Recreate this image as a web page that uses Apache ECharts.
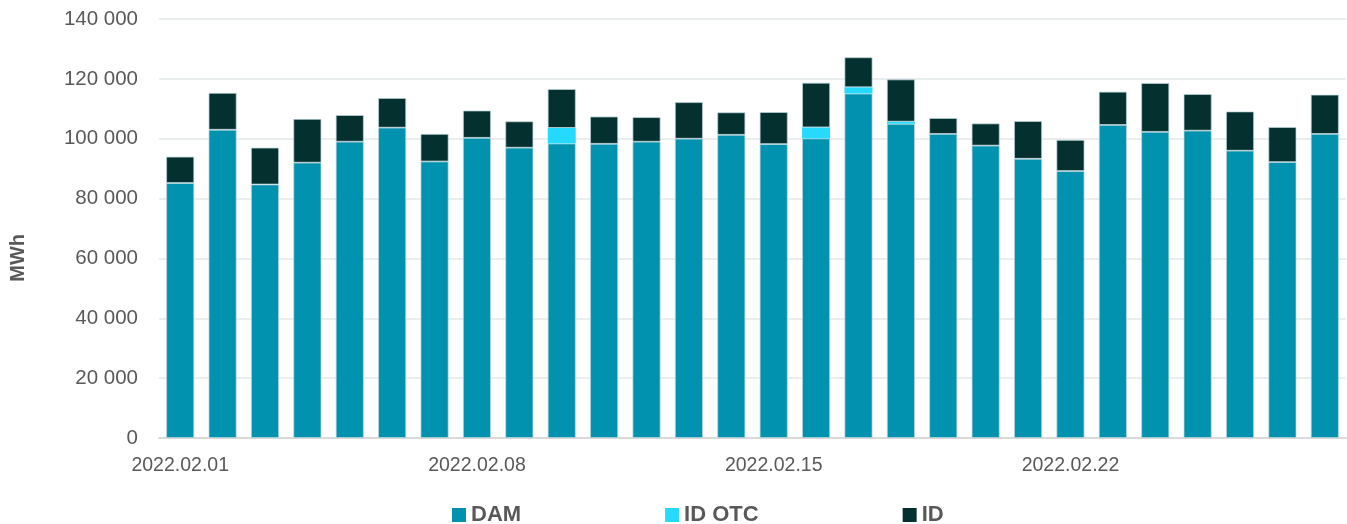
<!DOCTYPE html>
<html>
<head>
<meta charset="utf-8">
<script src="https://cdn.jsdelivr.net/npm/echarts@6/dist/echarts.min.js"></script>
<style>
html,body{margin:0;padding:0;background:#fff;}
#chart{width:1347px;height:524px;}
</style>
</head>
<body>
<div id="chart"></div>
<script>
const categories = [
  '2022.02.01','2022.02.02','2022.02.03','2022.02.04','2022.02.05','2022.02.06','2022.02.07',
  '2022.02.08','2022.02.09','2022.02.10','2022.02.11','2022.02.12','2022.02.13','2022.02.14',
  '2022.02.15','2022.02.16','2022.02.17','2022.02.18','2022.02.19','2022.02.20','2022.02.21',
  '2022.02.22','2022.02.23','2022.02.24','2022.02.25','2022.02.26','2022.02.27','2022.02.28'
];
const dam = [
  85200,103000,84700,92000,99000,103700,92400,
  100300,97000,98400,98300,99000,100000,101300,
  98200,100100,115100,105000,101600,97700,93300,
  89200,104600,102300,102700,96000,92200,101600
];
const idOtc = [
  0,0,0,0,0,0,0,
  0,0,5200,0,0,0,0,
  0,3700,2100,700,0,0,0,
  0,0,0,0,0,0,0
];
const idTotal = [
  94000,115300,97000,106600,107900,113600,101600,
  109400,105800,116600,107400,107200,112200,108800,
  108900,118700,127200,119800,106900,105100,105900,
  99600,115700,118600,114900,109100,103900,114700
];
const id = idTotal.map((t, i) => Math.round(t - dam[i] - idOtc[i]));
const yTicks = [0, 20000, 40000, 60000, 80000, 100000, 120000, 140000];

const fmt = v => String(v).replace(/\B(?=(\d{3})+(?!\d))/g, ' ');
const font = 'Liberation Sans, Arial, sans-serif';
const border = { borderColor: 'rgba(190,215,222,0.9)', borderWidth: 0.8 };

const chart = echarts.init(document.getElementById('chart'), null, { renderer: 'canvas' });
chart.setOption({
  animation: false,
  backgroundColor: '#ffffff',
  textStyle: { fontFamily: font },
  grid: { left: 159, right: 1, top: 19, bottom: 86, containLabel: false },
  legend: {
    left: 447, top: 499,
    itemWidth: 14, itemHeight: 14, itemGap: 144,
    icon: 'rect',
    itemStyle: { borderWidth: 0 },
    textStyle: { fontFamily: font, fontSize: 22, fontWeight: 'bold', color: '#595959' },
    data: ['DAM', 'ID OTC', 'ID']
  },
  graphic: [{
    type: 'text', left: 8, top: 234, rotation: Math.PI / 2,
    style: { text: 'MWh', font: 'bold 20px ' + font, fill: '#595959' }
  }],
  xAxis: {
    type: 'category',
    data: categories,
    boundaryGap: true,
    axisLine: { show: true, lineStyle: { color: '#d9d9d9', width: 2 } },
    axisTick: { show: false },
    axisLabel: { interval: 6, margin: 18, fontSize: 19.5, color: '#595959', fontFamily: font }
  },
  yAxis: {
    type: 'value',
    min: 0, max: yTicks[yTicks.length - 1], interval: 20000,
    axisLine: { show: false },
    axisTick: { show: false },
    splitLine: { lineStyle: { color: '#e4e8e8', width: 1.5 } },
    axisLabel: { margin: 21, fontSize: 20.5, color: '#595959', fontFamily: font, formatter: fmt }
  },
  series: [
    { name: 'DAM', type: 'bar', stack: 'a', barWidth: 28, data: dam,
      itemStyle: Object.assign({ color: '#0092AF' }, border) },
    { name: 'ID OTC', type: 'bar', stack: 'a', barWidth: 28, data: idOtc,
      itemStyle: { color: '#26D9FE', borderWidth: 0 } },
    { name: 'ID', type: 'bar', stack: 'a', barWidth: 28, data: id,
      itemStyle: Object.assign({ color: '#04302F' }, border) }
  ]
});
</script>
</body>
</html>
